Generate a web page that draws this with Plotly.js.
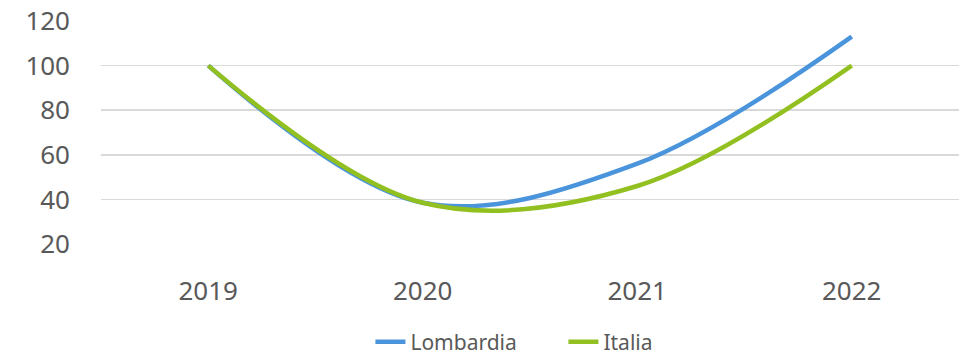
<!DOCTYPE html>
<html>
<head>
<meta charset="utf-8">
<script src="https://cdn.plot.ly/plotly-3.0.1.min.js"></script>
<style>html,body{margin:0;padding:0;background:#fff;}#chart{width:967px;height:357px;}</style>
</head>
<body>
<div id="chart"></div>
<script>
const years = ['2019', '2020', '2021', '2022'];
const lombardia = [100, 38.5, 56, 113];
const italia = [100, 38.5, 46, 100];
const yTicks = [20, 40, 60, 80, 100, 120];

const traces = [
  {x: years, y: lombardia, name: 'Lombardia', type: 'scatter', mode: 'lines',
   line: {color: '#4A94DC', width: 4.5, shape: 'spline', smoothing: 1}},
  {x: years, y: italia, name: 'Italia', type: 'scatter', mode: 'lines',
   line: {color: '#92C020', width: 4.5, shape: 'spline', smoothing: 1}}
];
const layout = {
  width: 967, height: 357,
  margin: {l: 101, r: 8, t: 21, b: 113, autoexpand: false},
  paper_bgcolor: '#fff', plot_bgcolor: '#fff',
  font: {family: '"Source Sans Pro", "Noto Sans", sans-serif', color: '#595959'},
  showlegend: true,
  legend: {orientation: 'h', x: 0.314, xanchor: 'left', y: -0.44, yanchor: 'middle',
           font: {size: 21, color: '#595959'}, itemwidth: 30, tracegroupgap: 0,
           entrywidth: 148, entrywidthmode: 'pixels'},
  xaxis: {type: 'category', range: [-0.5, 3.5], showgrid: false, zeroline: false, showline: false,
          ticks: '', tickfont: {size: 26, color: '#595959'}, ticklabelstandoff: 29},
  yaxis: {range: [20, 120], tickvals: yTicks, showgrid: true, gridcolor: '#D9D9D9', gridwidth: 1.5,
          zeroline: false, showline: false, ticks: '', tickfont: {size: 26, color: '#595959'},
          ticklabelstandoff: 30}
};
Plotly.newPlot('chart', traces, layout, {displayModeBar: false, staticPlot: true});
</script>
</body>
</html>
